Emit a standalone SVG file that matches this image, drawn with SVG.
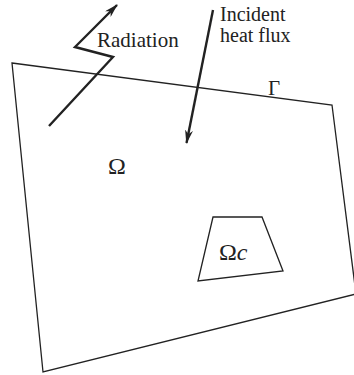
<svg xmlns="http://www.w3.org/2000/svg" width="354" height="375" viewBox="0 0 354 375">
<defs>
<marker id="ah" viewBox="0 0 14 8" refX="13" refY="4" markerWidth="14" markerHeight="8" markerUnits="userSpaceOnUse" orient="auto">
<path d="M14,4 L0,0 L4,4 L0,8 Z" fill="#222"/>
</marker>
<style>
.edge{fill:none;stroke:#222;stroke-width:1.3;stroke-linejoin:miter}
.arrow{fill:none;stroke:#222;stroke-width:2.4;stroke-linejoin:miter}
.t{font-family:"Liberation Serif","Times New Roman",serif;font-size:21px;fill:#222}
.s{font-family:"Liberation Serif","Times New Roman",serif;font-size:20px;fill:#222}
.m{font-family:"Liberation Serif","Times New Roman",serif;font-size:24px;fill:#222}
</style>
</defs>
<rect width="354" height="375" fill="#fff"/>
<g id="domain">
<polygon class="edge" points="12,63 332,105 356,294 43,372"/>
<text class="t" x="268" y="95">Γ</text>
<text class="m" x="108" y="174">Ω</text>
</g>
<g id="inclusion">
<polygon class="edge" points="213,217 262,217 283,271 198,281"/>
<text class="m" x="219" y="260">Ω<tspan font-style="italic">c</tspan></text>
</g>
<g id="connectors">
<polyline class="arrow" points="49,126 113,57 75,47 117,5" marker-end="url(#ah)"/>
<line class="arrow" x1="213" y1="10" x2="186.5" y2="143" marker-end="url(#ah)"/>
</g>
<g id="labels">
<text class="t" x="97" y="47">Radiation</text>
<text class="s" x="220" y="21">Incident</text>
<text class="s" x="220" y="42">heat flux</text>
</g>
</svg>
